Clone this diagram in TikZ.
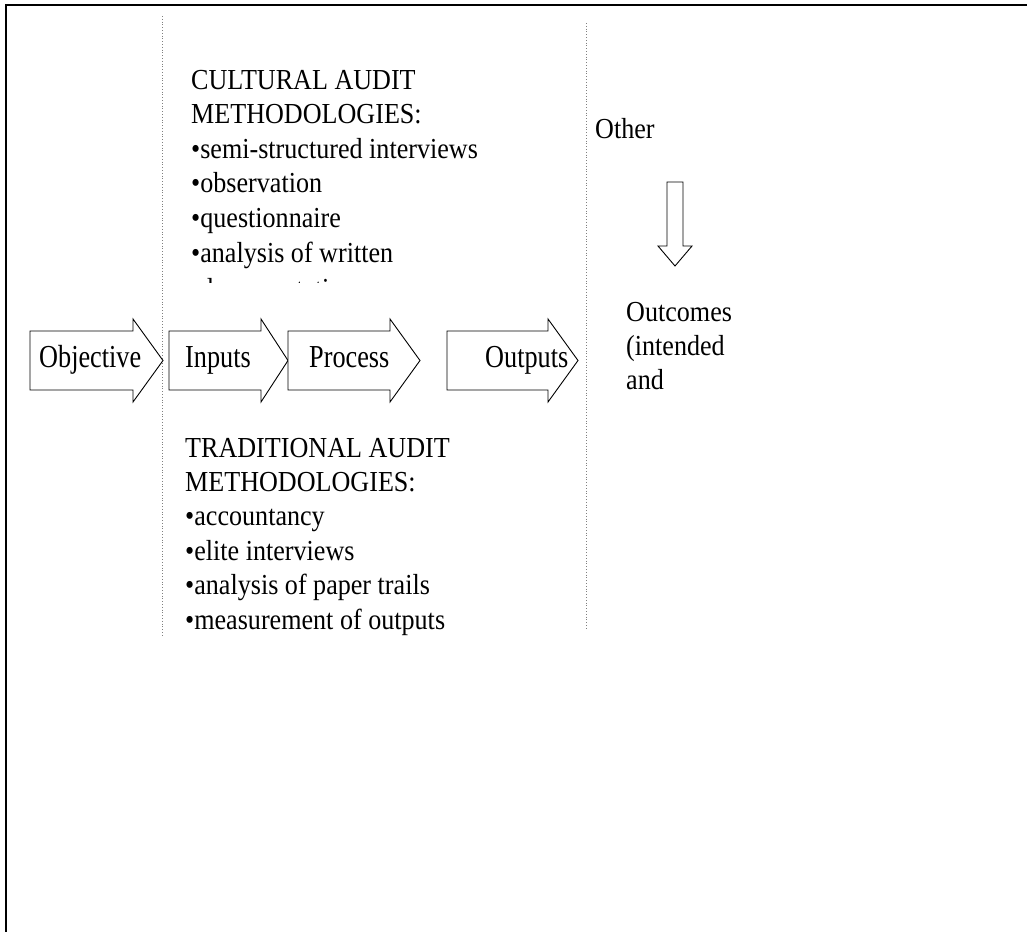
\documentclass[tikz,border=0pt]{standalone}
\usepackage{fontspec}
\setmainfont{Liberation Serif}[FakeStretch=0.9]
\newfontfamily\arrowfont{Liberation Serif}[FakeStretch=0.82]
\tikzset{
  blk/.style={draw=black, line width=0.9pt, fill=white},
  lbl/.style={anchor=base west, inner sep=0pt, font=\fontsize{29}{34.5}\selectfont},
  albl/.style={anchor=base west, inner sep=0pt, font=\arrowfont\fontsize{32}{38}\selectfont},
  sep/.style={gray, dotted, line width=0.8pt}
}
\begin{document}
\begin{tikzpicture}[x=1pt,y=-1pt]
\useasboundingbox (0,0) rectangle (1027,932);
%   Cadre :
\draw[line width=2.5pt] (1027,5) -- (6,5) -- (6,932);
%   Separations :
\coordinate (s1a) at (162,16);
\coordinate (s1b) at (162,637);
\coordinate (s2a) at (586,23);
\coordinate (s2b) at (586,629);
\draw[sep] (s1a) -- (s1b);
\draw[sep] (s2a) -- (s2b);
%   Fleches :
\foreach \a/\b/\c in {30/133/163, 169/261/288, 288/390/420, 447/548/578}
  \draw[blk] (\a,331) -- (\b,331) -- (\b,319) -- (\c,360.5) -- (\b,402) -- (\b,390) -- (\a,390) -- cycle;
\draw[blk] (667,182) -- (683,182) -- (683,246) -- (692,246) -- (675,266) -- (658,246) -- (667,246) -- cycle;
\node[albl] (obj) at (39,367) {Objective};
\node[albl] (inp) at (185,367) {Inputs};
\node[albl] (proc) at (309,367) {Process};
\node[albl] (outp) at (485,367) {Outputs};
%   Methodologies :
\foreach \t [count=\i from 0] in {CULTURAL AUDIT, METHODOLOGIES:, •semi-structured interviews, •observation, •questionnaire, •analysis of written}
  \node[lbl] (cult\i) at (191,{89+34.6*\i}) {\t};
%   \node[lbl] (cult6) at (191,296.5) {•documentation};
\begin{scope}
  \clip (150,0) rectangle (580,282);
  \node[lbl] (cult6) at (191,298.5) {•documentation};
\end{scope}
\foreach \t [count=\i from 0] in {TRADITIONAL AUDIT, METHODOLOGIES:, •accountancy, •elite interviews, •analysis of paper trails, •measurement of outputs}
  \node[lbl] (trad\i) at (185,{457+34.4*\i}) {\t};
%   Resultats :
\node[lbl] (other) at (595,138) {Other};
\foreach \t [count=\i from 0] in {Outcomes, {(intended}, and}
  \node[lbl] (outc\i) at (626,{321+34*\i}) {\t};
\end{tikzpicture}
\end{document}
